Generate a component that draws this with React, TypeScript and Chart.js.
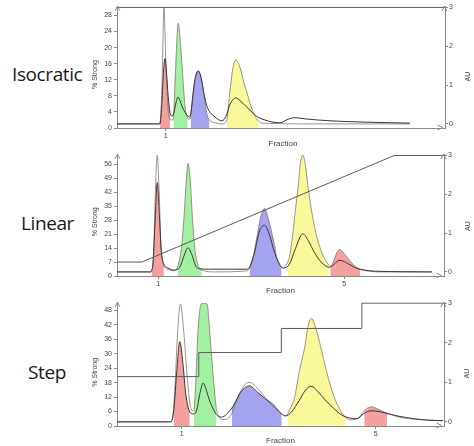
import React, { useEffect, useRef } from "react";
import { Chart, registerables } from "chart.js";

Chart.register(...registerables);

type Pt = [number, number];
type FillSpec = [number, number, string, string]; // from, to, colour key, trace key

// Shared axis values
const auTicks = [0, 1, 2, 3];

// ---------- Panel 1: Isocratic ----------
const isoLight: Pt[] = [
  [0, 0], [10.25, 0], [10.75, 0.05], [11.25, 1.0], [11.75, 3.0], [12.25, 1.4], [12.75, 0.4],
  [13.25, 0.12], [13.75, 0.1], [14.1, 0.15], [14.6, 1.3], [15.3, 2.59], [16.0, 1.9], [16.4, 1.3],
  [17.0, 0.45], [17.7, 0.15], [18.1, 0.12], [18.4, 0.2], [18.9, 0.7], [19.5, 1.15], [20.3, 1.37],
  [21.0, 1.2], [21.8, 0.69], [22.5, 0.25], [23.1, 0.1], [24.5, 0.03], [26.25, 0], [27.4, 0.08],
  [28.25, 0.86], [29.0, 1.45], [29.75, 1.64], [30.75, 1.45], [31.75, 1.05], [32.5, 0.8],
  [33.5, 0.45], [34.5, 0.2], [35.3, 0.08], [36.25, 0.02], [50, 0], [73.25, 0],
];
const isoDark: Pt[] = [
  [0, 0], [10.75, 0], [11.25, 0.6], [11.6, 1.3], [12.0, 1.68], [12.4, 1.3], [12.8, 0.7],
  [13.25, 0.3], [13.75, 0.2], [14.25, 0.3], [14.75, 0.55], [15.25, 0.69], [15.75, 0.6],
  [16.25, 0.45], [17.0, 0.3], [17.7, 0.2], [18.1, 0.18], [18.5, 0.3], [19.0, 0.75], [19.5, 1.15],
  [20.3, 1.36], [21.0, 1.2], [21.8, 0.75], [22.5, 0.45], [23.25, 0.3], [24.25, 0.2], [25.5, 0.1],
  [26.25, 0.08], [27.25, 0.2], [28.25, 0.5], [29.7, 0.67], [30.75, 0.6], [32.25, 0.45],
  [33.75, 0.3], [35.0, 0.19], [37.0, 0.1], [38.75, 0.05], [40.75, 0.03], [42.75, 0.12],
  [44.5, 0.16], [47.0, 0.13], [53.25, 0.08], [60.75, 0.05], [68.25, 0.03], [73.25, 0.02],
];
const isoStrong: Pt[] = [[0, 30], [82, 30]];
const isoStrongTicks = [0, 4, 8, 12, 16, 20, 24, 28];
const isoFractionTicks = [12.2];
const isoFractionLabels = ["1"];
const isoFills: FillSpec[] = [
  [10.75, 13.25, "red", "dark"],
  [14.1, 17.7, "green", "light"],
  [18.4, 23.1, "blue", "light"],
  [27.4, 35.3, "yellow", "light"],
];

// ---------- Panel 2: Linear ----------
const linLight: Pt[] = [
  [0, 0], [8.25, 0], [8.9, 0.1], [9.25, 0.6], [9.6, 2.0], [10.1, 3.0], [10.6, 2.0], [11.0, 0.7],
  [11.5, 0.25], [12.25, 0.1], [13.25, 0.05], [14.5, 0.03], [15.25, 0.15], [16.25, 0.7],
  [16.8, 1.41], [17.4, 2.4], [17.8, 2.79], [18.4, 2.3], [18.9, 1.41], [19.5, 0.6], [20.25, 0.2],
  [21.25, 0.05], [24.5, 0], [32, 0.02], [33.25, 0.1], [34.25, 0.45], [35.0, 0.85], [36.0, 1.4],
  [37.0, 1.63], [38.0, 1.35], [39.25, 0.81], [40.25, 0.3], [41.25, 0.12], [41.75, 0.1],
  [42.25, 0.15], [42.8, 0.25], [43.25, 0.39], [44.1, 0.99], [44.75, 1.6], [45.5, 2.27],
  [46.0, 2.8], [46.6, 3.0], [47.25, 2.75], [47.8, 2.27], [48.75, 1.6], [49.9, 0.99], [51.0, 0.6],
  [52.0, 0.35], [53.1, 0.18], [53.5, 0.15], [54.0, 0.2], [54.75, 0.4], [55.75, 0.58], [57, 0.47],
  [58.25, 0.3], [59.75, 0.14], [61, 0.06], [63.25, 0.02], [65.75, 0], [79, 0],
];
const linDark: Pt[] = [
  [0, 0], [8.5, 0], [8.75, 0.05], [9.0, 0.2], [9.5, 1.2], [10.1, 2.3], [10.6, 1.5], [11.1, 0.55],
  [11.75, 0.2], [12.75, 0.1], [14.25, 0.05], [15.75, 0.12], [16.75, 0.4], [17.8, 0.62],
  [18.75, 0.45], [19.75, 0.15], [20.75, 0.08], [23.25, 0.07], [28.25, 0.07], [32.75, 0.07],
  [34.25, 0.4], [35.75, 1.05], [37, 1.2], [38.25, 0.95], [39.5, 0.5], [40.75, 0.2], [41.75, 0.1],
  [43.25, 0.2], [44.75, 0.6], [46.6, 0.98], [48, 0.8], [49.5, 0.5], [51.25, 0.25], [53.25, 0.12],
  [54.5, 0.2], [55.75, 0.3], [57.5, 0.24], [59.5, 0.12], [62, 0.05], [64.5, 0.02], [79, 0],
];
const linStrong: Pt[] = [[0, 7], [6.2, 7], [69.5, 60.5], [82, 60.5]];
const linStrongTicks = [0, 7, 14, 21, 28, 35, 42, 49, 56];
const linFractionTicks = [10.3, 57.0];
const linFractionLabels = ["1", "5"];
const linFills: FillSpec[] = [
  [8.75, 11.75, "red", "dark"],
  [15.25, 21.25, "green", "light"],
  [33.25, 41.25, "blue", "light"],
  [42.8, 53.1, "yellow", "light"],
  [53.5, 61, "red", "light"],
];

// ---------- Panel 3: Step ----------
const stepLight: Pt[] = [
  [0, 0], [13.25, 0], [13.9, 0.08], [14.6, 1.01], [15.2, 2.27], [15.9, 2.98], [16.75, 2.27],
  [17.7, 1.01], [18.4, 0.4], [19.0, 0.28], [19.3, 0.3], [19.75, 1.01], [20.3, 2.27], [21.1, 2.98],
  [21.9, 3.0], [22.6, 2.98], [23.25, 2.27], [24.25, 1.01], [24.9, 0.34], [25.5, 0.15],
  [26.25, 0.06], [27.25, 0.06], [28.25, 0.12], [28.8, 0.22], [29.9, 0.5], [31.6, 0.88],
  [33.25, 1.0], [34.75, 0.9], [36.6, 0.69], [37.75, 0.55], [39.1, 0.46], [40.25, 0.32],
  [41.3, 0.2], [42.4, 0.16], [42.8, 0.2], [43.5, 0.35], [44.5, 0.6], [45.75, 1.3], [47.0, 1.85],
  [48.0, 2.45], [48.75, 2.62], [49.75, 2.4], [51.2, 1.85], [52.25, 1.4], [53.25, 1.01],
  [54.75, 0.55], [56.2, 0.26], [57.25, 0.12], [58.75, 0.05], [60.75, 0.12], [62, 0.28],
  [63, 0.36], [64, 0.38], [65.25, 0.33], [66.5, 0.27], [67.7, 0.22], [70.75, 0.12],
  [75.75, 0.06], [81.75, 0.03],
];
const stepDark: Pt[] = [
  [0, 0], [13.5, 0], [14.25, 0.3], [15, 1.3], [15.75, 2.03], [16.5, 1.5], [17.25, 0.7],
  [18.25, 0.25], [19.25, 0.2], [20, 0.3], [20.75, 0.7], [21.6, 0.98], [22.25, 0.85], [23, 0.6],
  [24, 0.35], [25.25, 0.15], [26.25, 0.12], [27.75, 0.22], [28.8, 0.35], [29.25, 0.42],
  [31, 0.75], [33.25, 0.91], [35.25, 0.75], [37, 0.6], [38.75, 0.45], [40.75, 0.25], [41.3, 0.2],
  [42.25, 0.15], [43.75, 0.25], [45.75, 0.55], [47.25, 0.8], [48.7, 0.9], [50.25, 0.78],
  [52.25, 0.55], [54.25, 0.35], [56.25, 0.18], [58.25, 0.1], [60.25, 0.08], [61.75, 0.2],
  [63.7, 0.28], [65.75, 0.26], [68.25, 0.2], [70.75, 0.14], [74.5, 0.08], [78.25, 0.04],
  [81.75, 0.03],
];
const stepStrong: Pt[] = [[0, 20.5], [20.5, 30.5], [41.2, 40.5], [61.4, 51], [82, 51]];
const stepStrongTicks = [0, 6, 12, 18, 24, 30, 36, 42, 48];
const stepFractionTicks = [16.2, 64.9];
const stepFractionLabels = ["1", "5"];
const stepFills: FillSpec[] = [
  [14.25, 18.25, "red", "dark"],
  [19.3, 24.9, "green", "light"],
  [28.8, 41.3, "blue", "dark"],
  [42.8, 57.25, "yellow", "light"],
  [62, 67.7, "red", "light"],
];

// ---------- Styling ----------
const fillColors: Record<string, string> = {
  red: "#f5a0a0",
  green: "#a2f0a2",
  blue: "#a3a3f0",
  yellow: "#f9f99c",
};
const lightColor = "rgba(135,120,105,0.8)";
const darkColor = "#3d3535";
const strongColor = "#5c5c5c";
const axisColor = "#8a8a8a";
const textColor = "#444";
const tickFont = { family: "'Liberation Sans', Arial, sans-serif", size: 7 };

const axisDeco = {
  id: "axisDeco",
  afterDraw(chart: any, _args: any, opts: any) {
    const { ctx, chartArea: a } = chart;
    ctx.save();
    ctx.strokeStyle = axisColor;
    ctx.lineWidth = 1;
    const L = Math.round(a.left) + 0.5;
    const R = Math.round(a.right) - 0.5;
    const T = Math.round(a.top);
    const B = Math.round(a.bottom) - 0.5;
    const up = (x: number) => {
      ctx.beginPath();
      ctx.moveTo(x - 2.5, T + 5);
      ctx.lineTo(x, T);
      ctx.lineTo(x + 2.5, T + 5);
      ctx.stroke();
    };
    up(L);
    up(R);
    ctx.beginPath();
    ctx.moveTo(R - 7, B - 2.5);
    ctx.lineTo(R - 2, B);
    ctx.lineTo(R - 7, B + 2.5);
    ctx.stroke();

    ctx.fillStyle = textColor;
    ctx.textAlign = "center";
    ctx.textBaseline = "middle";
    const midY = (a.top + a.bottom) / 2;
    ctx.font = "7px 'Liberation Sans', Arial, sans-serif";
    ctx.save();
    ctx.translate(a.left - 22, midY + opts.leftShift);
    ctx.rotate(-Math.PI / 2);
    ctx.fillText(opts.left, 0, 0);
    ctx.restore();
    ctx.save();
    ctx.translate(a.right + opts.rightDx, midY + opts.rightShift);
    ctx.rotate(-Math.PI / 2);
    ctx.fillText(opts.right, 0, 0);
    ctx.restore();
    ctx.font = "8px 'Liberation Sans', Arial, sans-serif";
    ctx.fillText(opts.bottom, (a.left + a.right) / 2 + opts.bottomDx, a.bottom + opts.bottomOffset);
    ctx.restore();
  },
};

const toXY = (pts: Pt[]) => pts.map(([x, y]) => ({ x, y }));
const inRange = (pts: Pt[], from: number, to: number) =>
  pts.filter(([x]) => x >= from - 1e-9 && x <= to + 1e-9);

type PanelCfg = {
  top: number;
  height: number;
  padTop: number;
  xH: number;
  rightW: number;
  light: Pt[];
  dark: Pt[];
  strong: Pt[];
  stepped: boolean;
  strongTicks: number[];
  strongMax: number;
  fracTicks: number[];
  fracLabels: string[];
  fills: FillSpec[];
  leftShift: number;
  rightShift: number;
  rightDx: number;
  bottomOffset: number;
  bottomDx: number;
};

function Panel({ cfg }: { cfg: PanelCfg }) {
  const ref = useRef<HTMLCanvasElement>(null);
  useEffect(() => {
    const gridOpts = {
      drawOnChartArea: false,
      drawTicks: true,
      tickLength: 3,
      color: axisColor,
    };
    const border = { display: true, color: axisColor, width: 1 };
    const fillSets = cfg.fills.map(([from, to, col, tr]) => ({
      label: col,
      data: toXY(inRange(tr === "dark" ? cfg.dark : cfg.light, from, to)),
      yAxisID: "y1",
      borderWidth: 0,
      borderColor: "transparent",
      backgroundColor: fillColors[col],
      fill: "start",
      cubicInterpolationMode: "monotone",
      pointRadius: 0,
      order: 3,
    }));
    const chart = new Chart(ref.current as HTMLCanvasElement, {
      type: "line",
      data: {
        datasets: [
          {
            label: "% Strong",
            data: toXY(cfg.strong),
            yAxisID: "y",
            borderColor: strongColor,
            borderWidth: 1,
            stepped: cfg.stepped,
            pointRadius: 0,
            fill: false,
            order: 0,
          },
          {
            label: "AU 2",
            data: toXY(cfg.dark),
            yAxisID: "y1",
            borderColor: darkColor,
            borderWidth: 1,
            cubicInterpolationMode: "monotone",
            pointRadius: 0,
            fill: false,
            order: 1,
          },
          {
            label: "AU 1",
            data: toXY(cfg.light),
            yAxisID: "y1",
            borderColor: lightColor,
            borderWidth: 1,
            cubicInterpolationMode: "monotone",
            pointRadius: 0,
            fill: false,
            order: 2,
          },
          ...fillSets,
        ] as any,
      },
      options: {
        animation: false,
        responsive: false,
        maintainAspectRatio: false,
        events: [],
        layout: { padding: { top: cfg.padTop, left: 0, right: 0, bottom: 0 } },
        plugins: {
          legend: { display: false },
          tooltip: { enabled: false },
          axisDeco: {
            left: "% Strong",
            right: "AU",
            bottom: "Fraction",
            leftShift: cfg.leftShift,
            rightShift: cfg.rightShift,
            rightDx: cfg.rightDx,
            bottomOffset: cfg.bottomOffset,
            bottomDx: cfg.bottomDx,
          },
        } as any,
        scales: {
          x: {
            type: "linear",
            min: 0,
            max: 82,
            afterFit: (s: any) => {
              s.height = cfg.xH;
            },
            afterBuildTicks: (s: any) => {
              s.ticks = cfg.fracTicks.map((v) => ({ value: v }));
            },
            ticks: {
              autoSkip: false,
              maxRotation: 0,
              padding: 1,
              font: tickFont,
              color: textColor,
              callback: (_v: any, i: number) => cfg.fracLabels[i],
            },
            grid: gridOpts,
            border,
          },
          y: {
            type: "linear",
            position: "left",
            min: 0,
            max: cfg.strongMax,
            afterFit: (s: any) => {
              s.width = 29;
            },
            afterBuildTicks: (s: any) => {
              s.ticks = cfg.strongTicks.map((v) => ({ value: v }));
            },
            ticks: {
              autoSkip: false,
              padding: 2,
              font: tickFont,
              color: textColor,
              callback: (v: any) => String(v),
            },
            grid: gridOpts,
            border,
          },
          y1: {
            type: "linear",
            position: "right",
            min: -0.105,
            max: 3.028,
            afterFit: (s: any) => {
              s.width = cfg.rightW;
            },
            afterBuildTicks: (s: any) => {
              s.ticks = auTicks.map((v) => ({ value: v }));
            },
            ticks: {
              autoSkip: false,
              padding: 1,
              font: tickFont,
              color: textColor,
              callback: (v: any) => String(v),
            },
            grid: gridOpts,
            border,
          },
        } as any,
      },
      plugins: [axisDeco as any],
    });
    return () => chart.destroy();
  }, [cfg]);
  return (
    <canvas
      ref={ref}
      width={386}
      height={cfg.height}
      style={{ position: "absolute", left: 88, top: cfg.top, width: 386, height: cfg.height }}
    />
  );
}

const panels: PanelCfg[] = [
  {
    top: 0, height: 148, padTop: 5, xH: 20, rightW: 29,
    light: isoLight, dark: isoDark, strong: isoStrong, stepped: false,
    strongTicks: isoStrongTicks, strongMax: 30.3,
    fracTicks: isoFractionTicks, fracLabels: isoFractionLabels, fills: isoFills,
    leftShift: 7.5, rightShift: 9.5, rightDx: 23.3, bottomOffset: 16, bottomDx: 2,
  },
  {
    top: 148, height: 148, padTop: 6, xH: 20, rightW: 30,
    light: linLight, dark: linDark, strong: linStrong, stepped: false,
    strongTicks: linStrongTicks, strongMax: 61.15,
    fracTicks: linFractionTicks, fracLabels: linFractionLabels, fills: linFills,
    leftShift: 6.7, rightShift: 11, rightDx: 24, bottomOffset: 14.7, bottomDx: 0,
  },
  {
    top: 296, height: 150, padTop: 5, xH: 20, rightW: 30,
    light: stepLight, dark: stepDark, strong: stepStrong, stepped: true,
    strongTicks: stepStrongTicks, strongMax: 51.4,
    fracTicks: stepFractionTicks, fracLabels: stepFractionLabels, fills: stepFills,
    leftShift: 8.2, rightShift: 9.5, rightDx: 22.7, bottomOffset: 14.7, bottomDx: 0,
  },
];

const labelStyle: React.CSSProperties = {
  position: "absolute",
  fontFamily: "'Open Sans', 'Noto Sans', sans-serif",
  fontWeight: 400,
  fontSize: 19,
  letterSpacing: -0.4,
  lineHeight: "20px",
  color: "#1a1a1a",
  whiteSpace: "nowrap",
};

export default function App() {
  return (
    <div
      style={{
        position: "fixed",
        left: 0,
        top: 0,
        width: 474,
        height: 446,
        background: "#fff",
        overflow: "hidden",
      }}
    >
      <div style={{ ...labelStyle, left: 12, top: 64 }}>Isocratic</div>
      <div style={{ ...labelStyle, left: 21, top: 213 }}>Linear</div>
      <div style={{ ...labelStyle, left: 28, top: 362 }}>Step</div>
      {panels.map((p, i) => (
        <Panel key={i} cfg={p} />
      ))}
    </div>
  );
}
